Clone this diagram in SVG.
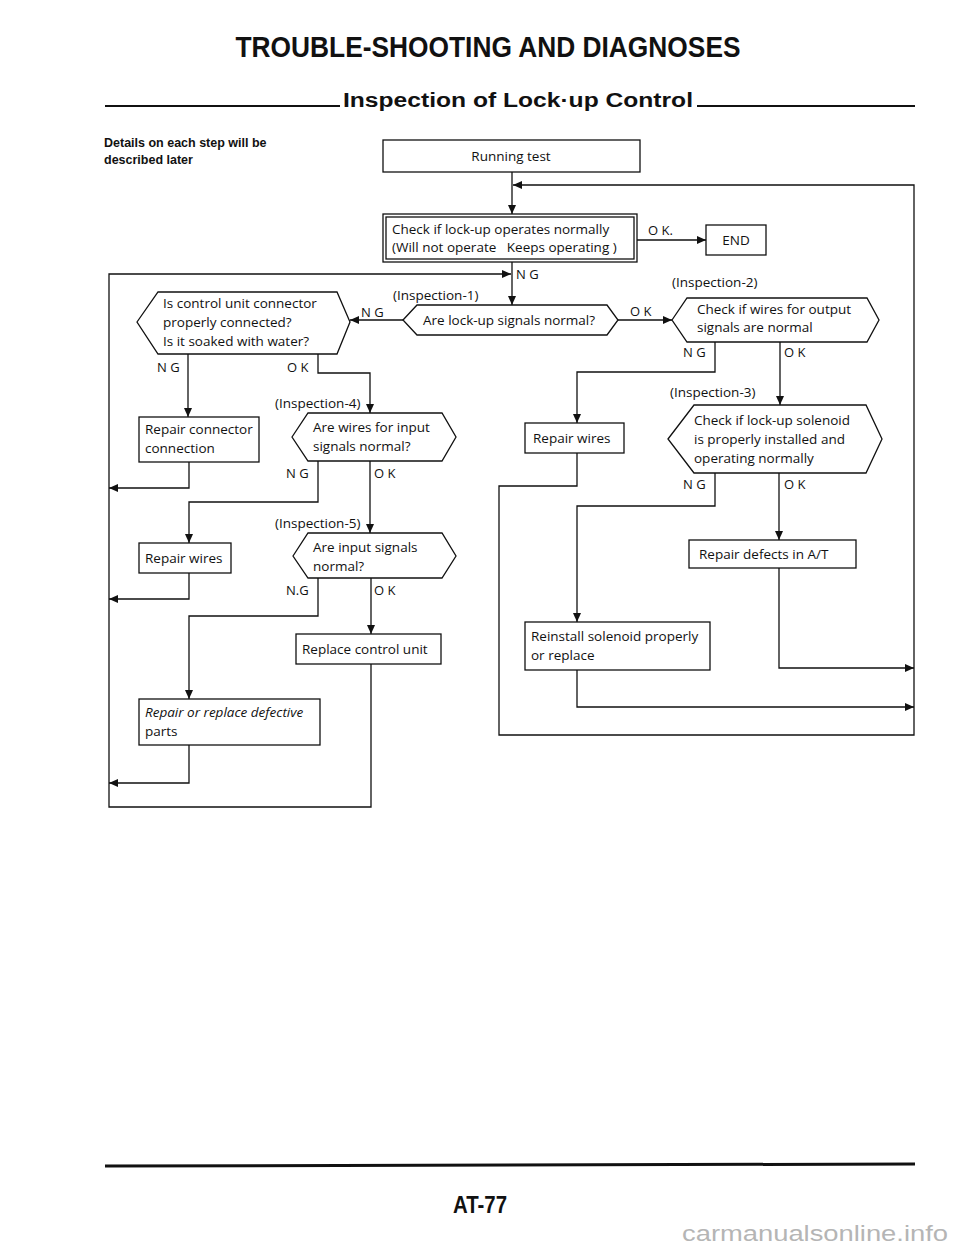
<svg xmlns="http://www.w3.org/2000/svg" width="960" height="1246" viewBox="0 0 960 1246">
<style>
.t{font-family:"Open Sans","Liberation Sans",Arial,sans-serif;font-size:13.5px;fill:#111}
.lb{font-family:"Open Sans","Liberation Sans",Arial,sans-serif;font-size:13px;fill:#111}
.b{fill:#fff;stroke:#111;stroke-width:1.3}
.c{fill:none;stroke:#111;stroke-width:1.3}
.a{marker-end:url(#ar)}
</style>
<defs>
<marker id="ar" markerUnits="userSpaceOnUse" markerWidth="10" markerHeight="8" refX="9" refY="4" orient="auto">
<path d="M0,0 L9,4 L0,8 Z" fill="#111"/>
</marker>
</defs>
<rect width="960" height="1246" fill="#fff"/>
<g id="header">
<text x="488" y="57" text-anchor="middle" font-family="Liberation Sans,Arial,sans-serif" font-weight="bold" font-size="29" textLength="505" lengthAdjust="spacingAndGlyphs" fill="#111">TROUBLE-SHOOTING AND DIAGNOSES</text>
<line x1="105" y1="106" x2="340" y2="106" stroke="#111" stroke-width="2"/>
<text x="518" y="107" text-anchor="middle" font-family="Liberation Sans,Arial,sans-serif" font-weight="bold" font-size="20" textLength="350" lengthAdjust="spacingAndGlyphs" fill="#111">Inspection of Lock·up Control</text>
<line x1="697" y1="106" x2="915" y2="106" stroke="#111" stroke-width="2"/>
<text x="104" y="147" font-family="Liberation Sans,Arial,sans-serif" font-weight="bold" font-size="12.5" fill="#111">Details on each step will be</text>
<text x="104" y="164" font-family="Liberation Sans,Arial,sans-serif" font-weight="bold" font-size="12.5" fill="#111">described later</text>
</g>
<g id="connectors">
<path class="c a" d="M512,172 V214"/>
<path class="c a" d="M577,453 V486 H499 V735 H914 V185 H513"/>
<path class="c a" d="M637,240 H706"/>
<path class="c a" d="M512,262 V305"/>
<path class="c a" d="M371,664 V807 H109 V274 H511"/>
<path class="c a" d="M403,320 H350"/>
<path class="c a" d="M618,320 H672"/>
<path class="c a" d="M188,354 V417"/>
<path class="c a" d="M318,354 V373 H370 V413"/>
<path class="c a" d="M189,462 V488 H109"/>
<path class="c a" d="M318,461 V502 H189 V543"/>
<path class="c a" d="M370,461 V533"/>
<path class="c a" d="M189,573 V599 H109"/>
<path class="c a" d="M318,578 V616 H189 V699"/>
<path class="c a" d="M371,578 V634"/>
<path class="c a" d="M189,745 V783 H109"/>
<path class="c a" d="M715,342 V372 H577 V423"/>
<path class="c a" d="M780,342 V405"/>
<path class="c a" d="M715,473 V506 H577 V622"/>
<path class="c a" d="M779,473 V540"/>
<path class="c a" d="M779,568 V668 H914"/>
<path class="c a" d="M577,670 V707 H914"/>
<text class="lb" x="648" y="235">O K.</text>
<text class="lb" x="516" y="279">N G</text>
<text class="lb" x="361" y="317">N G</text>
<text class="lb" x="630" y="316">O K</text>
<text class="lb" x="157" y="372">N G</text>
<text class="lb" x="287" y="372">O K</text>
<text class="lb" x="286" y="478">N G</text>
<text class="lb" x="374" y="478">O K</text>
<text class="lb" x="286" y="595">N.G</text>
<text class="lb" x="374" y="595">O K</text>
<text class="lb" x="683" y="357">N G</text>
<text class="lb" x="784" y="357">O K</text>
<text class="lb" x="683" y="489">N G</text>
<text class="lb" x="784" y="489">O K</text>
</g>
<g id="running-test">
<rect class="b" x="383" y="140" width="257" height="32"/>
<text class="t" x="511" y="161" text-anchor="middle">Running test</text>
</g>
<g id="check-lockup">
<rect class="b" x="383" y="214" width="254" height="48"/>
<rect class="b" x="386" y="217" width="248" height="42"/>
<text class="t" x="392" y="234">Check if lock-up operates normally</text>
<text class="t" x="392" y="252" xml:space="preserve">(Will not operate   Keeps operating )</text>
</g>
<g id="end">
<rect class="b" x="706" y="225" width="60" height="30"/>
<text class="t" x="736" y="245" text-anchor="middle">END</text>
</g>
<g id="insp1">
<text class="t" x="393" y="300">(Inspection-1)</text>
<polygon class="b" points="403,320 417,305 607,305 618,320 607,335 417,335"/>
<text class="t" x="423" y="325">Are lock-up signals normal?</text>
</g>
<g id="connector-check">
<polygon class="b" points="137,322 158,292 337,292 350,322 337,354 158,354"/>
<text class="t" x="163" y="308">Is control unit connector</text>
<text class="t" x="163" y="327">properly connected?</text>
<text class="t" x="163" y="346">Is it soaked with water?</text>
</g>
<g id="insp2">
<text class="t" x="672" y="287">(Inspection-2)</text>
<polygon class="b" points="672,320 687,298 867,298 879,320 867,342 687,342"/>
<text class="t" x="697" y="314">Check if wires for output</text>
<text class="t" x="697" y="332">signals are normal</text>
</g>
<g id="repair-connector">
<rect class="b" x="139" y="417" width="120" height="45"/>
<text class="t" x="145" y="434">Repair connector</text>
<text class="t" x="145" y="453">connection</text>
</g>
<g id="insp4">
<text class="t" x="275" y="408">(Inspection-4)</text>
<polygon class="b" points="292,437 308,413 442,413 456,437 442,461 308,461"/>
<text class="t" x="313" y="432">Are wires for input</text>
<text class="t" x="313" y="451">signals normal?</text>
</g>
<g id="repair-wires-left">
<rect class="b" x="139" y="543" width="92" height="30"/>
<text class="t" x="145" y="563">Repair wires</text>
</g>
<g id="insp5">
<text class="t" x="275" y="528">(Inspection-5)</text>
<polygon class="b" points="293,556 308,533 442,533 456,556 442,578 308,578"/>
<text class="t" x="313" y="552">Are input signals</text>
<text class="t" x="313" y="571">normal?</text>
</g>
<g id="replace-control-unit">
<rect class="b" x="296" y="634" width="145" height="30"/>
<text class="t" x="302" y="654">Replace control unit</text>
</g>
<g id="repair-replace-parts">
<rect class="b" x="139" y="699" width="181" height="46"/>
<text class="t" x="145" y="717" font-style="italic">Repair or replace defective</text>
<text class="t" x="145" y="736">parts</text>
</g>
<g id="repair-wires-right">
<rect class="b" x="525" y="423" width="99" height="30"/>
<text class="t" x="533" y="443">Repair wires</text>
</g>
<g id="insp3">
<text class="t" x="670" y="397">(Inspection-3)</text>
<polygon class="b" points="668,439 694,405 866,405 882,439 866,473 694,473"/>
<text class="t" x="694" y="425">Check if lock-up solenoid</text>
<text class="t" x="694" y="444">is properly installed and</text>
<text class="t" x="694" y="463">operating normally</text>
</g>
<g id="repair-defects">
<rect class="b" x="689" y="540" width="167" height="28"/>
<text class="t" x="699" y="559">Repair defects in A/T</text>
</g>
<g id="reinstall-solenoid">
<rect class="b" x="525" y="622" width="185" height="48"/>
<text class="t" x="531" y="641">Reinstall solenoid properly</text>
<text class="t" x="531" y="660">or replace</text>
</g>
<g id="footer">
<line x1="105" y1="1166" x2="915" y2="1164" stroke="#111" stroke-width="3"/>
<text x="480" y="1213" text-anchor="middle" font-family="Liberation Sans,Arial,sans-serif" font-weight="bold" font-size="24" textLength="54" lengthAdjust="spacingAndGlyphs" fill="#111">AT-77</text>
<text x="682" y="1241" font-family="Liberation Sans,Arial,sans-serif" font-size="22" textLength="266" lengthAdjust="spacingAndGlyphs" fill="#b5b5b5">carmanualsonline.info</text>
</g>
</svg>
